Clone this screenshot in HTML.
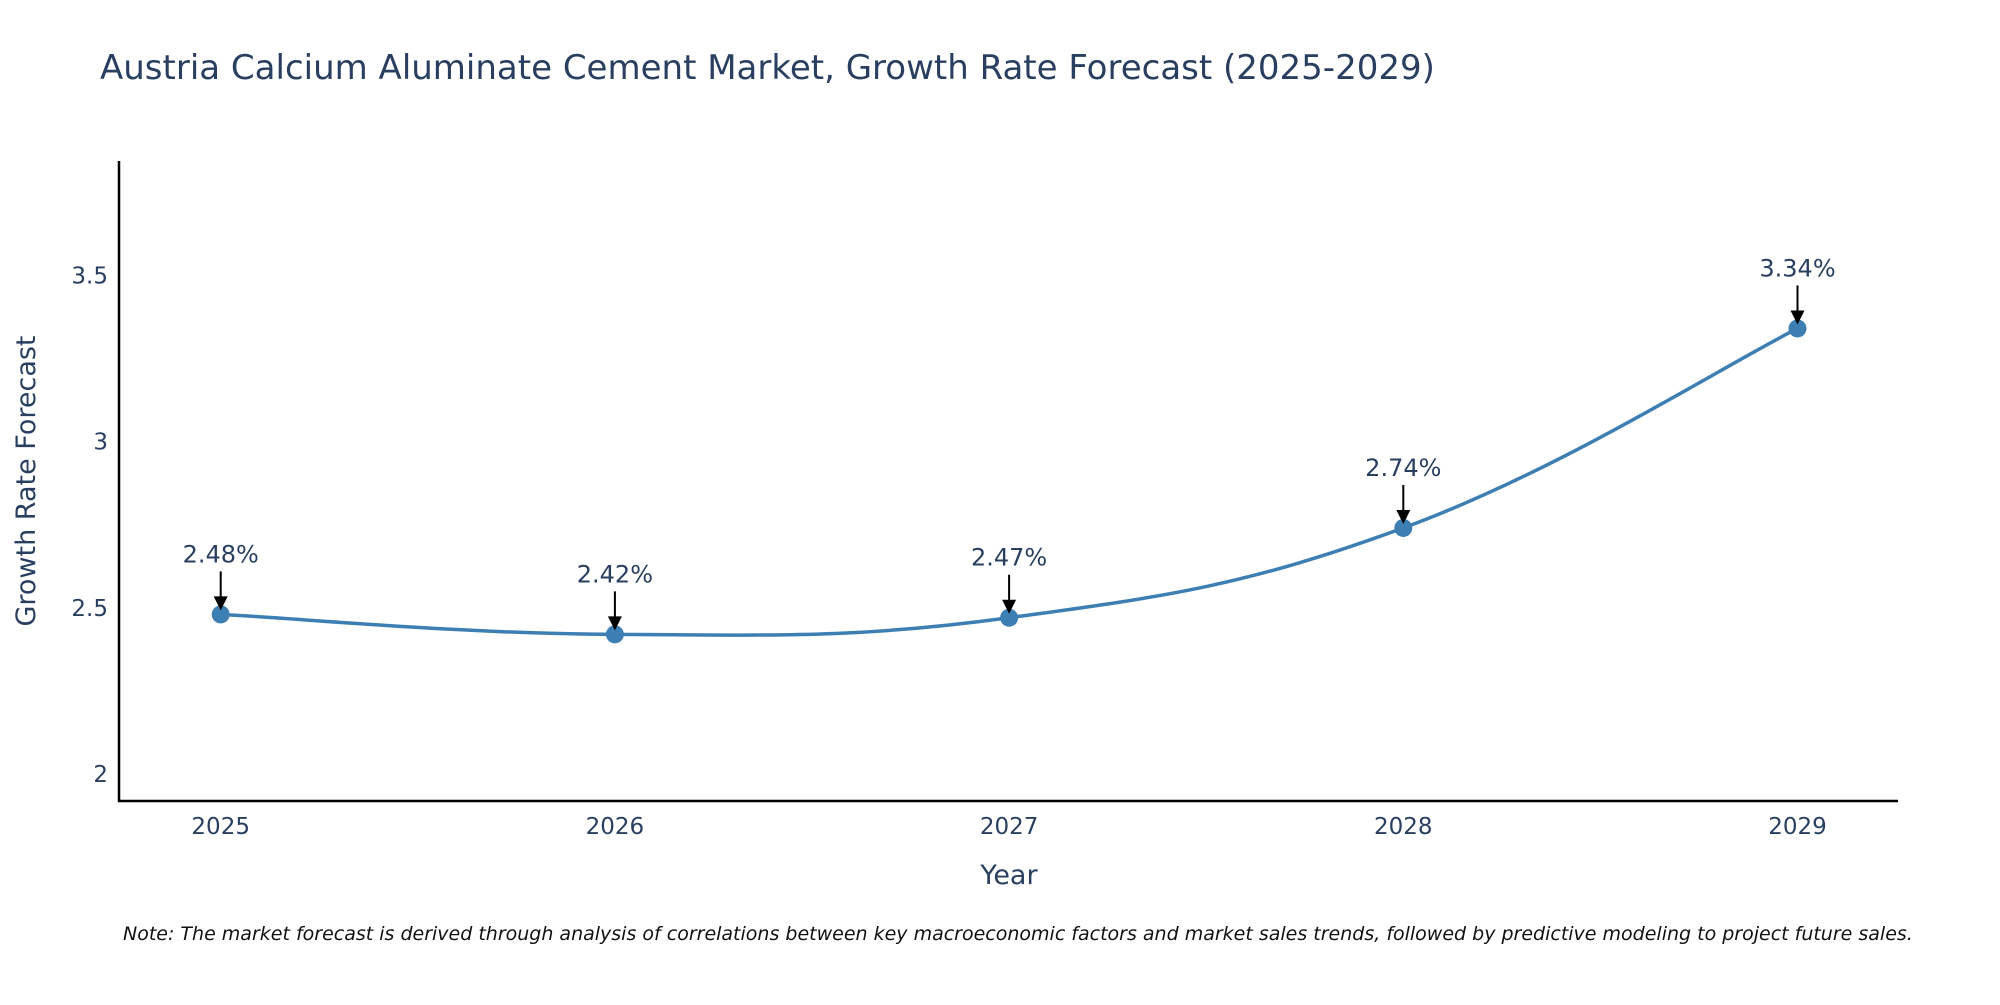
<!DOCTYPE html>
<html><head><meta charset="utf-8"><style>
body{margin:0;background:#fff}
svg text{font-family:"DejaVu Sans","Liberation Sans",sans-serif}
</style></head><body>
<svg id="chart" width="2000" height="1000" xmlns="http://www.w3.org/2000/svg">
<text x="100" y="79" font-size="34" fill="#2a3f5f">Austria Calcium Aluminate Cement Market, Growth Rate Forecast (2025-2029)</text>
<line x1="119" y1="161" x2="119" y2="802" stroke="#000" stroke-width="2.5"/>
<line x1="118" y1="801" x2="1898" y2="801" stroke="#000" stroke-width="2.5"/>
<text transform="translate(35,481) rotate(-90)" text-anchor="middle" font-size="27" fill="#2a3f5f">Growth Rate Forecast</text>
<text x="1009" y="884" text-anchor="middle" font-size="27" fill="#2a3f5f">Year</text>
<g id="marks"></g>
<text x="123" y="940" font-size="19" font-style="italic" fill="#111">Note: The market forecast is derived through analysis of correlations between key macroeconomic factors and market sales trends, followed by predictive modeling to project future sales.</text>
</svg>
<script>
const years = ["2025","2026","2027","2028","2029"];
const rates = [2.48, 2.42, 2.47, 2.74, 3.34];
const yTicks = [2, 2.5, 3, 3.5];
const labels = ["2.48%","2.42%","2.47%","2.74%","3.34%"];
const NS="http://www.w3.org/2000/svg";
const xS=i=>220.7+i*394.2;
const yS=v=>774-(v-2)*332.5;
const g=document.getElementById('marks');
function mk(t,a){const e=document.createElementNS(NS,t);for(const k in a)e.setAttribute(k,a[k]);g.appendChild(e);return e;}
yTicks.forEach(v=>{const t=mk('text',{x:108,y:yS(v)+8,'text-anchor':'end','font-size':23,fill:'#2a3f5f'});


t.textContent=String(v);});
years.forEach((y,i)=>{const t=mk('text',{x:xS(i),y:834,'text-anchor':'middle','font-size':23,fill:'#2a3f5f'});


t.textContent=y;});
const pts=rates.map((v,i)=>[xS(i),yS(v)]);
let d=`M${pts[0][0]},${pts[0][1]}`;
for(let i=0;i<pts.length-1;i++){const p0=pts[Math.max(0,i-1)],p1=pts[i],p2=pts[i+1],p3=pts[Math.min(pts.length-1,i+2)];const k=0.2;
d+=` C${p1[0]+(p2[0]-p0[0])*k},${p1[1]+(p2[1]-p0[1])*k} ${p2[0]-(p3[0]-p1[0])*k},${p2[1]-(p3[1]-p1[1])*k} ${p2[0]},${p2[1]}`;}
const line=mk('path',{d:d,fill:'none',stroke:'#3d7fb3','stroke-width':3.5});


pts.forEach((p,i)=>{
const c=mk('circle',{cx:p[0],cy:p[1],r:9,fill:'#3d7fb3'});


const a=mk('line',{x1:p[0],y1:p[1]-43,x2:p[0],y2:p[1]-16,stroke:'#000','stroke-width':2});


const h=mk('polygon',{points:`${p[0]-7},${p[1]-18} ${p[0]+7},${p[1]-18} ${p[0]},${p[1]-4}`,fill:'#000'});


const t=mk('text',{x:p[0],y:p[1]-52,'text-anchor':'middle','font-size':24,fill:'#2a3f5f'});


t.textContent=labels[i];});
</script>
</body></html>
